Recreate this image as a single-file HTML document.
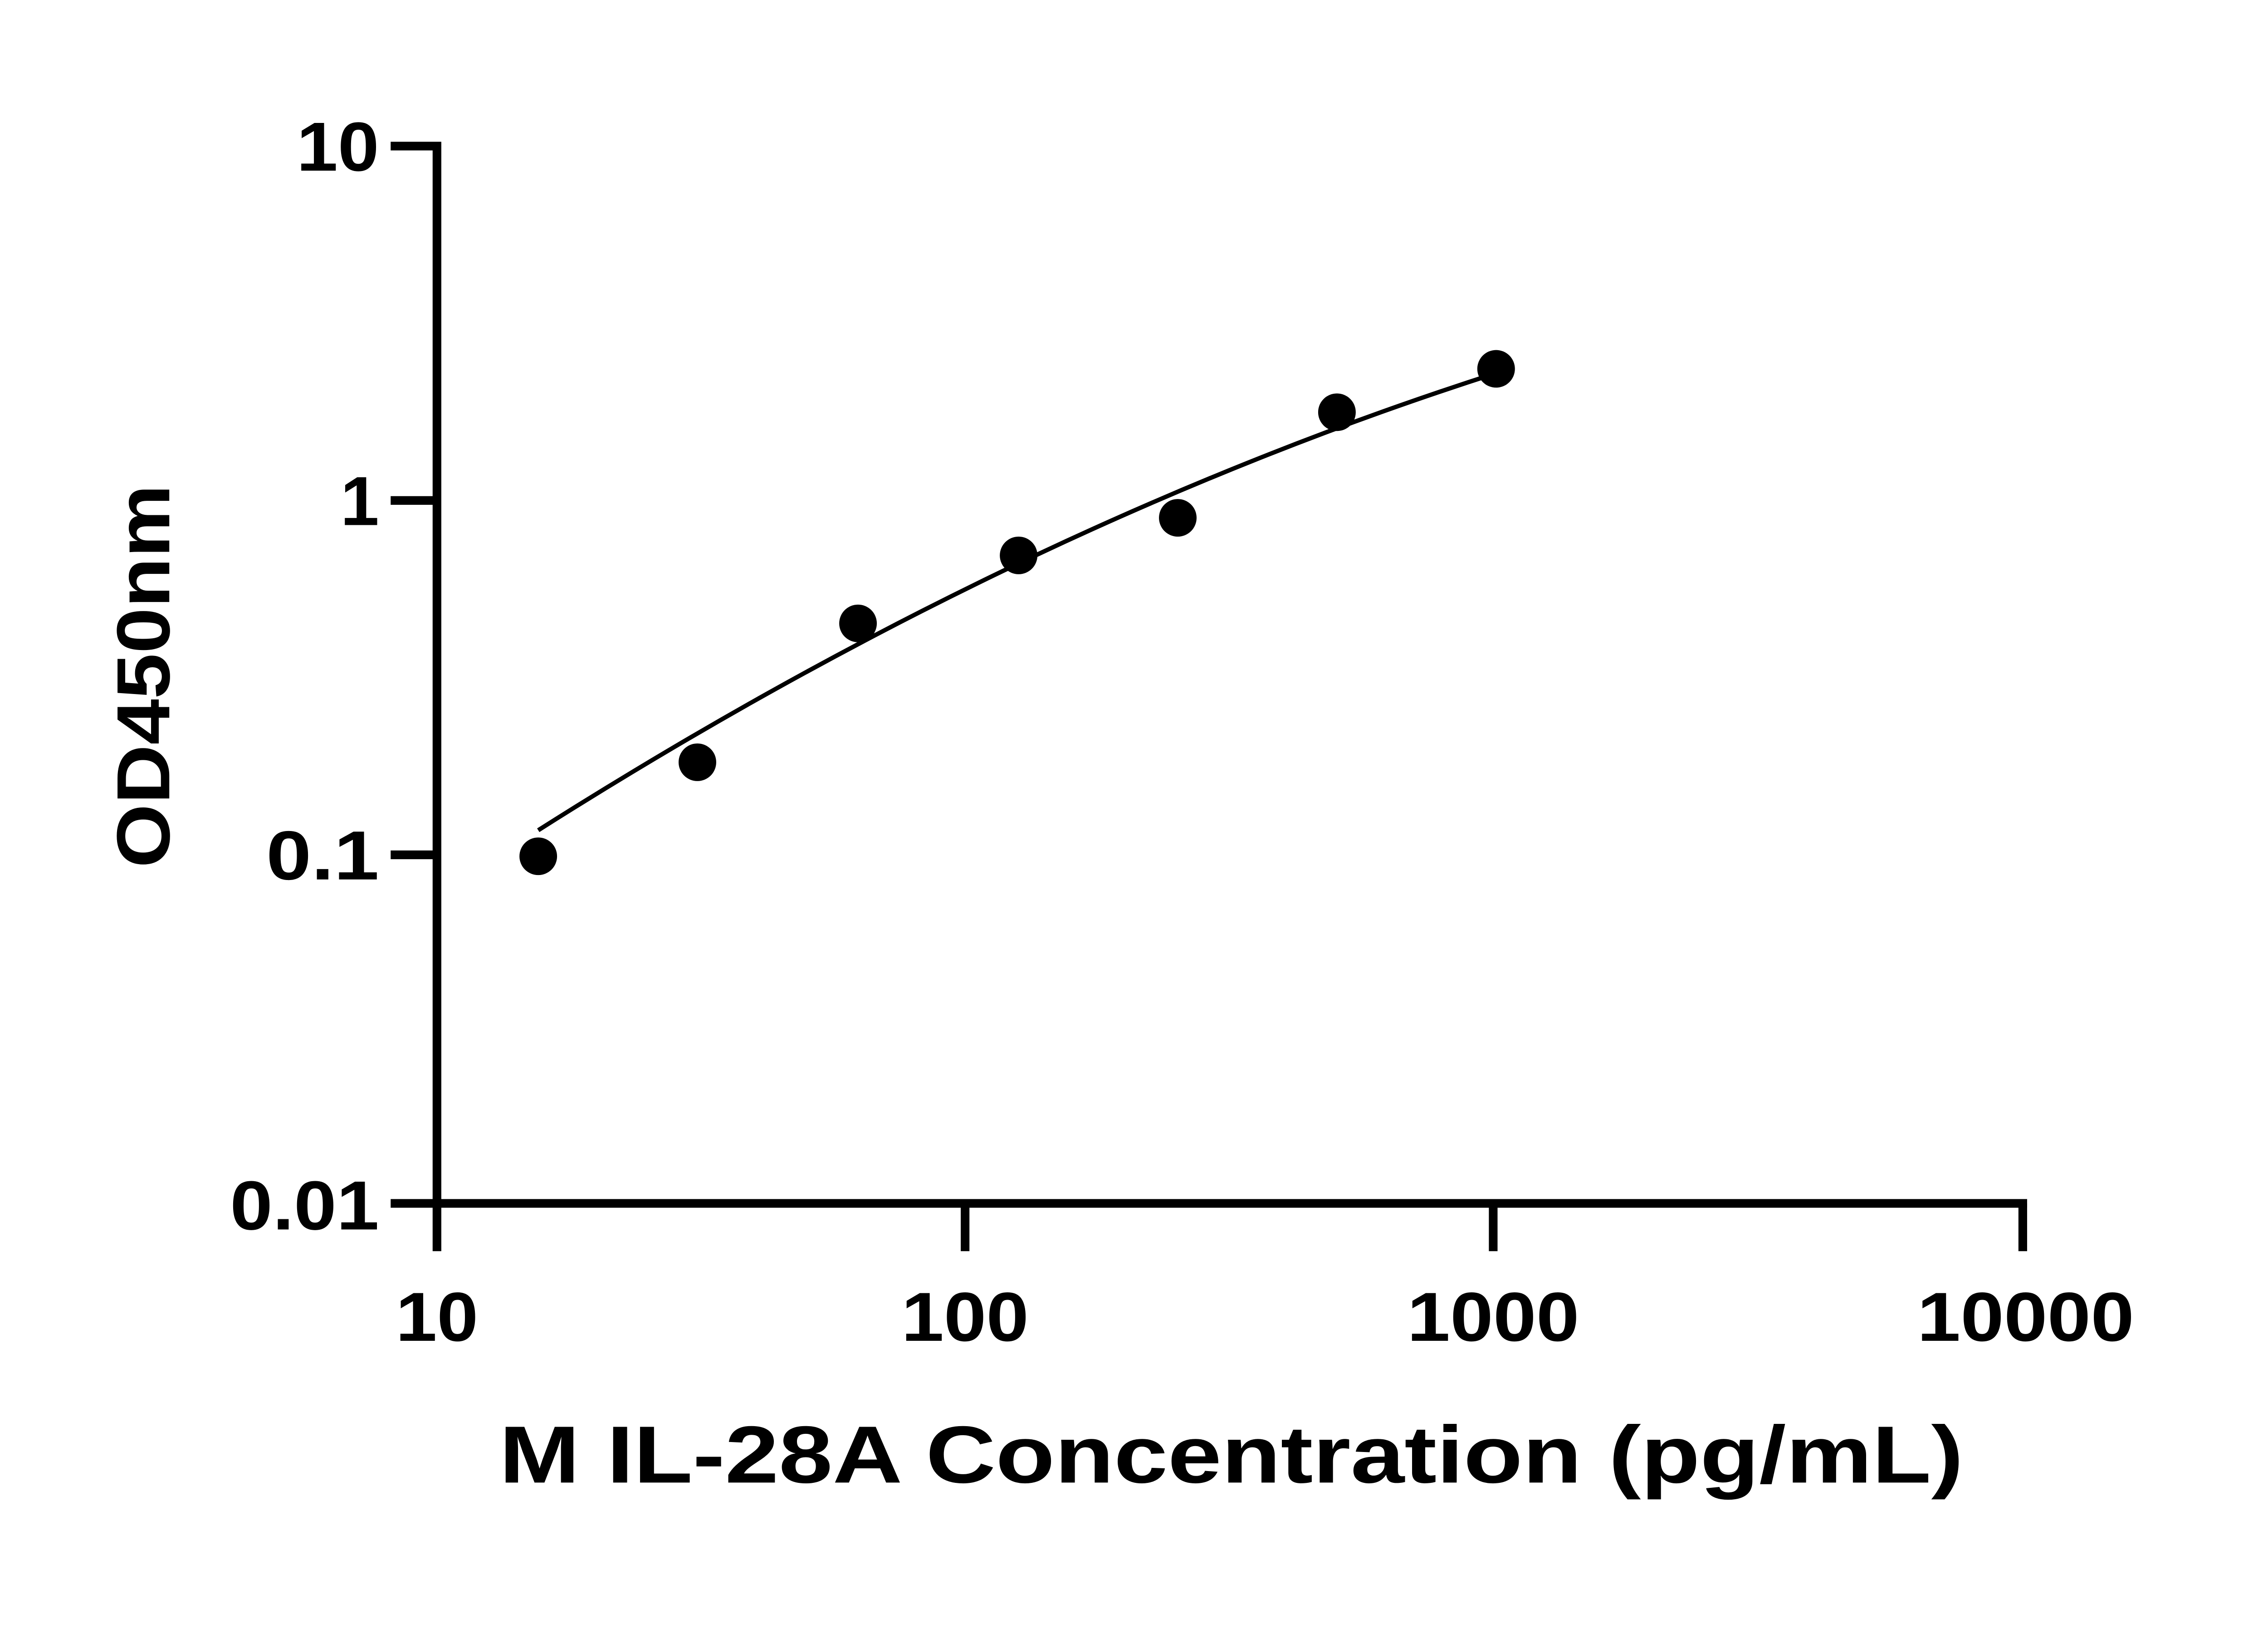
<!DOCTYPE html>
<html><head><style>html,body{margin:0;padding:0;background:#fff}svg{display:block}</style></head>
<body>
<svg width="5142" height="3600" viewBox="0 0 1612 1129" preserveAspectRatio="none" xmlns="http://www.w3.org/2000/svg" font-family="Liberation Sans, sans-serif" font-weight="bold">
<g stroke="#000" stroke-width="6" fill="none" stroke-linecap="butt">
<line x1="302" y1="98" x2="302" y2="835"/>
<line x1="299" y1="832" x2="1401" y2="832"/>
<line x1="270" y1="101" x2="302" y2="101"/>
<line x1="270" y1="346" x2="302" y2="346"/>
<line x1="270" y1="591" x2="302" y2="591"/>
<line x1="270" y1="832" x2="302" y2="832"/>
<line x1="302" y1="832" x2="302" y2="865"/>
<line x1="667" y1="832" x2="667" y2="865"/>
<line x1="1032" y1="832" x2="1032" y2="865"/>
<line x1="1398" y1="832" x2="1398" y2="865"/>
</g>
<path d="M372,574 Q703,364 1034,258" stroke="#000" stroke-width="3" fill="none"/>
<g fill="#000">
<circle cx="372" cy="592" r="13"/>
<circle cx="482" cy="527" r="13"/>
<circle cx="593" cy="431" r="13"/>
<circle cx="704" cy="384" r="13"/>
<circle cx="814" cy="358" r="13"/>
<circle cx="924" cy="285" r="13"/>
<circle cx="1034" cy="255" r="13"/>
</g>
<g font-size="48" text-anchor="end">
<text x="262" y="118" textLength="57" lengthAdjust="spacingAndGlyphs">10</text>
<text x="262" y="363">1</text>
<text x="262" y="608" textLength="78" lengthAdjust="spacingAndGlyphs">0.1</text>
<text x="262" y="850" textLength="103" lengthAdjust="spacingAndGlyphs">0.01</text>
</g>
<g font-size="48" text-anchor="middle">
<text x="302" y="927" textLength="57" lengthAdjust="spacingAndGlyphs">10</text>
<text x="667" y="927" textLength="88" lengthAdjust="spacingAndGlyphs">100</text>
<text x="1032" y="927" textLength="119" lengthAdjust="spacingAndGlyphs">1000</text>
<text x="1400" y="927" textLength="150" lengthAdjust="spacingAndGlyphs">10000</text>
</g>
<text x="851" y="1025" font-size="56" text-anchor="middle" textLength="1012" lengthAdjust="spacingAndGlyphs">M IL-28A Concentration (pg/mL)</text>
<text transform="translate(117,600) rotate(-90)" font-size="52" textLength="265" lengthAdjust="spacingAndGlyphs">OD450nm</text>
</svg>
</body></html>
